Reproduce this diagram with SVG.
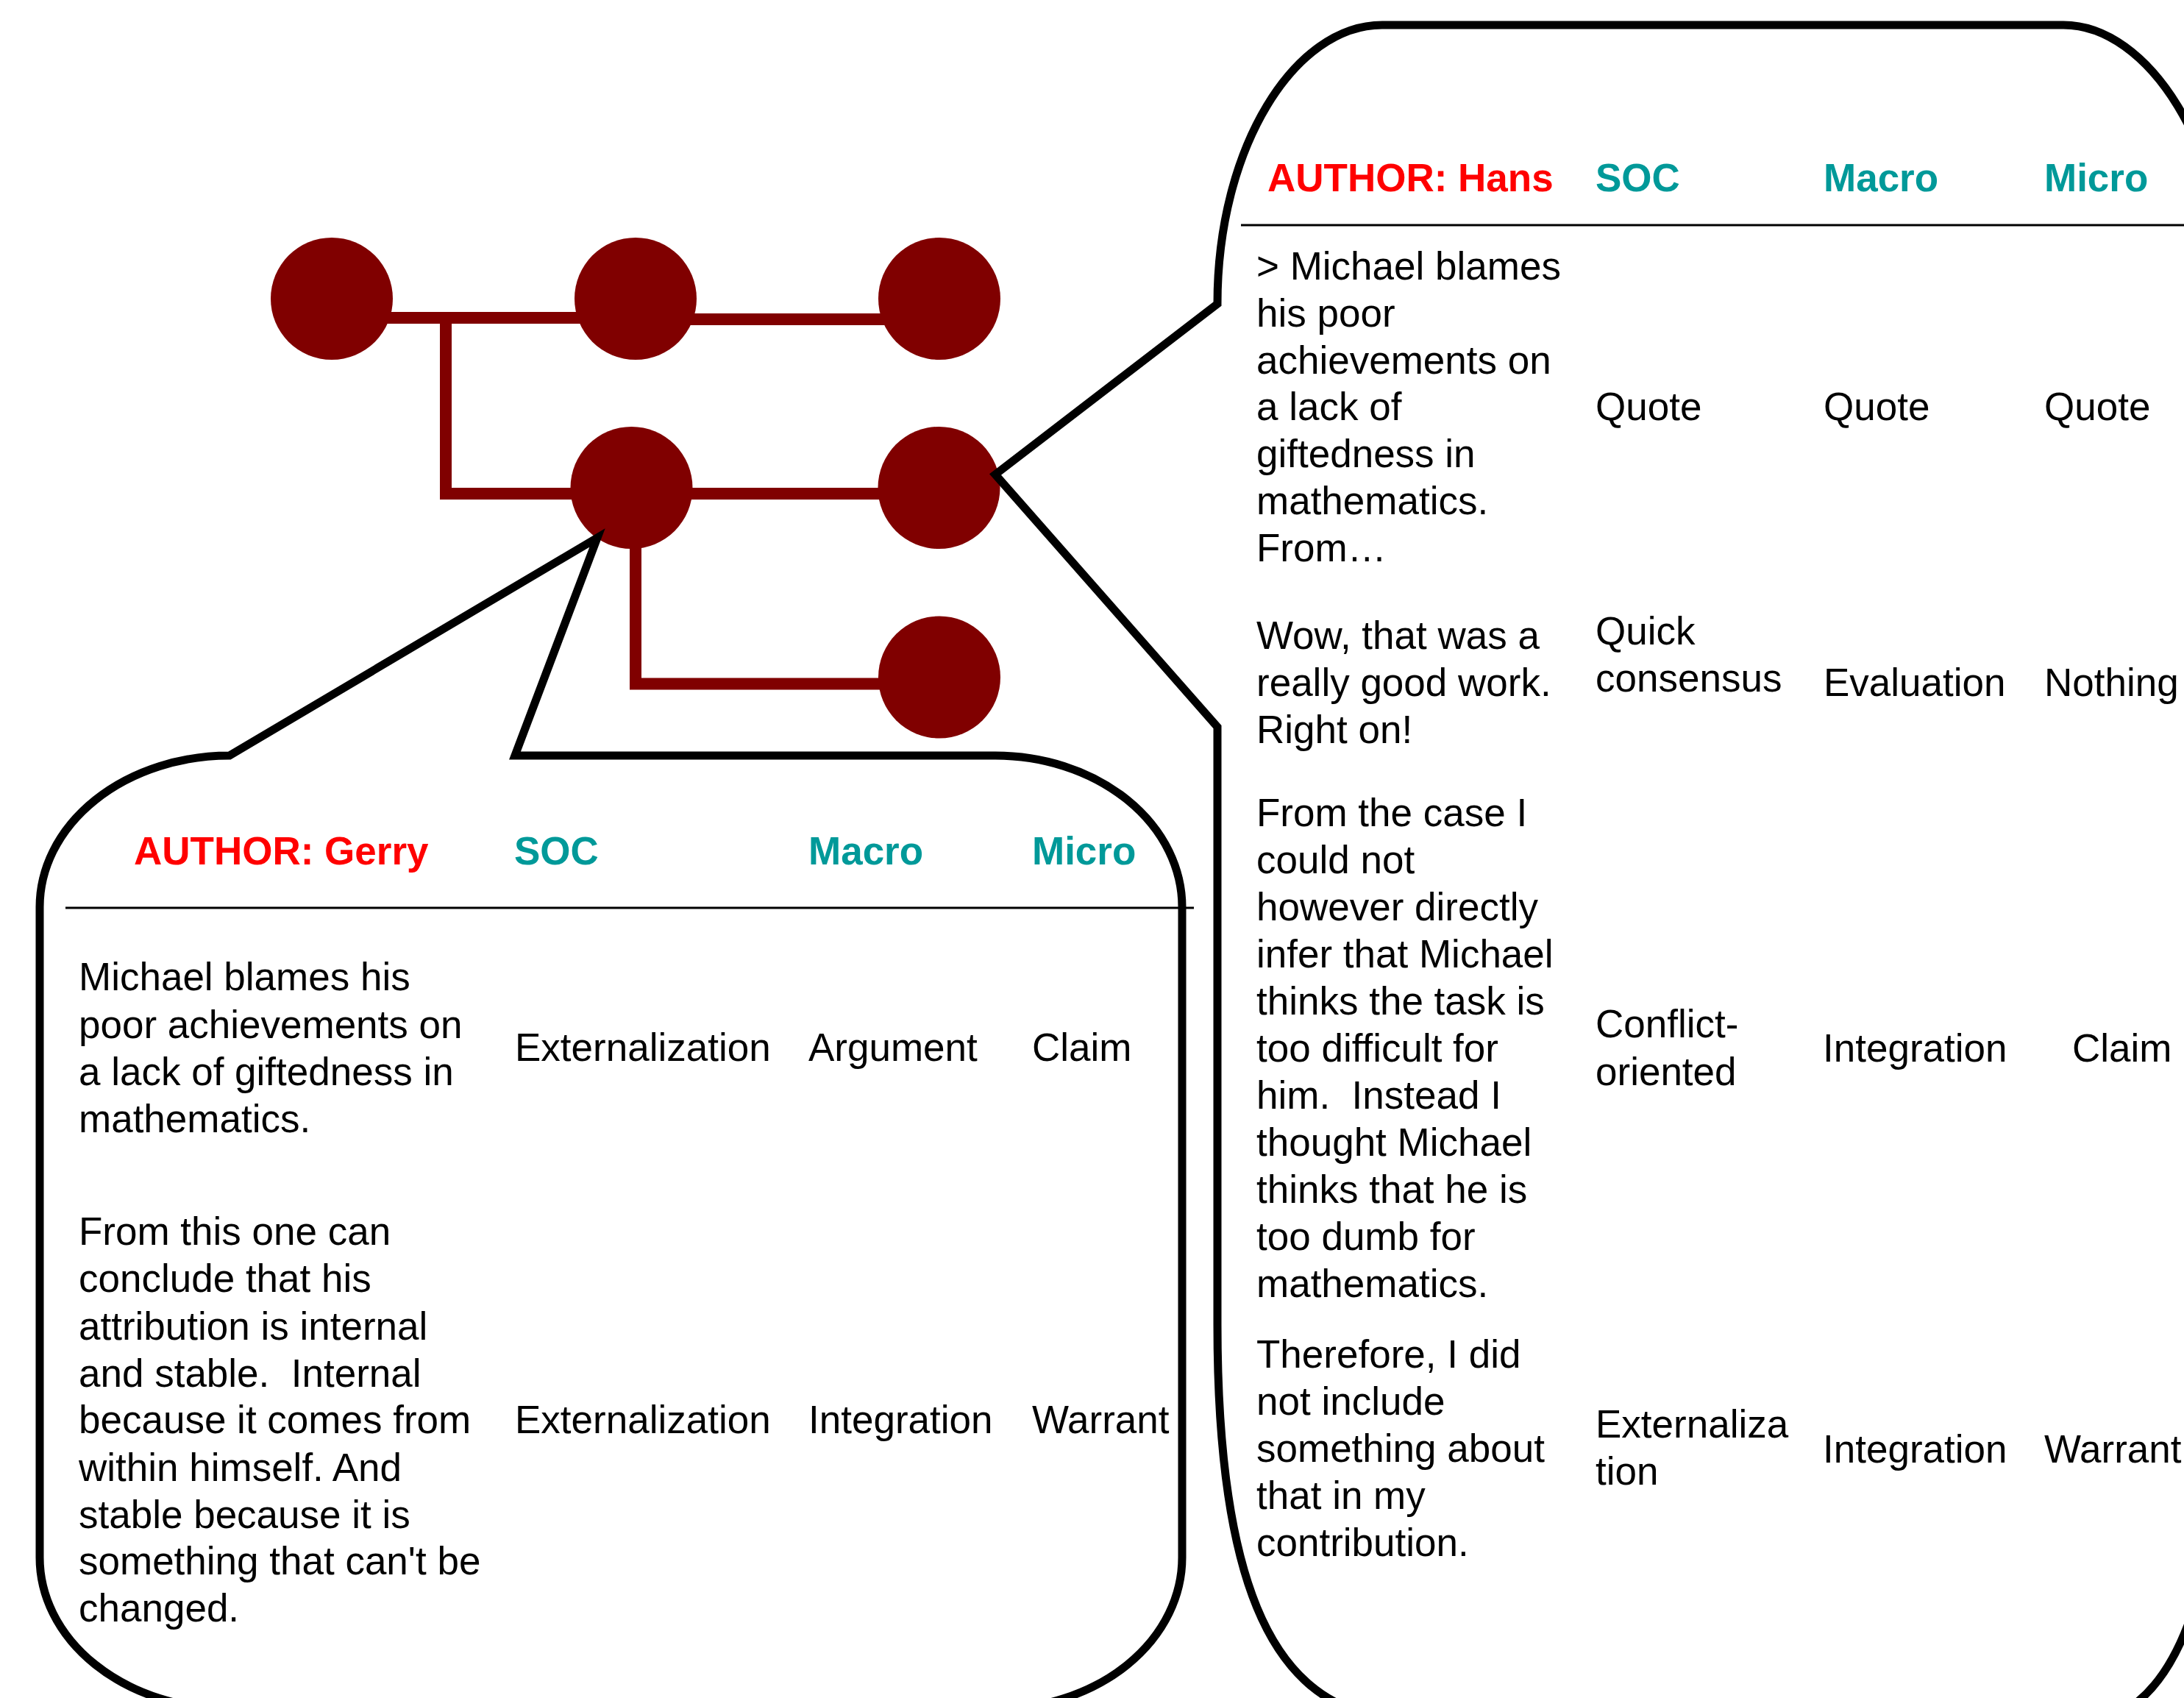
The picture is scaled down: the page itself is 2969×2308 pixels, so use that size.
<svg xmlns="http://www.w3.org/2000/svg" width="2969" height="2308" viewBox="0 0 2969 2308">
<style>
.bg{fill:#ffffff}
.node{fill:#800000}
.conn{fill:none;stroke:#800000;stroke-width:16;stroke-linejoin:miter;stroke-linecap:butt}
.callout{fill:none;stroke:#000000;stroke-width:11;stroke-linejoin:miter}
.sep{stroke:#000000;stroke-width:3}
text{font-family:"Liberation Sans",Arial,sans-serif;font-size:53px;fill:#000000;white-space:pre}
.author{font-weight:bold;fill:#ff0000}
.head{font-weight:bold;fill:#009999}
</style>
<rect class="bg" x="0" y="0" width="2969" height="2308"/>
<g id="connectors">
<polyline class="conn" points="450,432 864,432"/>
<polyline class="conn" points="864,434 1277,434"/>
<polyline class="conn" points="606,432 606,671 858,671"/>
<polyline class="conn" points="858,671 1277,671"/>
<polyline class="conn" points="864,663 864,929.5 1277,929.5"/>
</g>
<g id="node-1"><circle class="node" cx="451" cy="406" r="83"/></g>
<g id="node-2"><circle class="node" cx="864" cy="406" r="83"/></g>
<g id="node-3"><circle class="node" cx="1277" cy="406" r="83"/></g>
<g id="node-4"><circle class="node" cx="858.5" cy="663" r="83"/></g>
<g id="node-5"><circle class="node" cx="1276.5" cy="663" r="83"/></g>
<g id="node-6"><circle class="node" cx="1277" cy="920.5" r="83"/></g>
<g id="callout-gerry">
<path class="callout" d="M 312,1027 L 812,731 L 700,1027 L 1353,1027 A 254 206 0 0 1 1607,1233 L 1607,2117 A 254 206 0 0 1 1353,2323 L 312,2323 A 258 206 0 0 1 54,2117 L 54,1233 A 258 206 0 0 1 312,1027 Z"/>
<line class="sep" x1="89" y1="1234" x2="1623" y2="1234"/>
<text class="author" x="182" y="1175">AUTHOR: Gerry</text>
<text class="head" x="699" y="1175">SOC</text>
<text class="head" x="1099" y="1175">Macro</text>
<text class="head" x="1403" y="1175">Micro</text>
<text x="107"><tspan x="107" y="1346">Michael blames his</tspan><tspan x="107" y="1411">poor achievements on</tspan><tspan x="107" y="1475">a lack of giftedness in</tspan><tspan x="107" y="1539">mathematics.</tspan></text>
<text x="700" y="1442">Externalization</text>
<text x="1099" y="1442">Argument</text>
<text x="1403" y="1442">Claim</text>
<text x="107"><tspan x="107" y="1692">From this one can</tspan><tspan x="107" y="1756">conclude that his</tspan><tspan x="107" y="1821">attribution is internal</tspan><tspan x="107" y="1885">and stable.  Internal</tspan><tspan x="107" y="1948">because it comes from</tspan><tspan x="107" y="2013">within himself. And</tspan><tspan x="107" y="2077">stable because it is</tspan><tspan x="107" y="2140">something that can't be</tspan><tspan x="107" y="2204">changed.</tspan></text>
<text x="700" y="1948">Externalization</text>
<text x="1099" y="1948">Integration</text>
<text x="1403" y="1948">Warrant</text>
</g>
<g id="callout-hans">
<path class="callout" d="M 1879,34 L 2805,34 C 2920,34 3029,200 3029,413 L 3029,1750 C 3029,2100 2980,2280 2880,2330 L 1860,2330 C 1730,2300 1655,2150 1655,1800 L 1655,988 L 1353,645 L 1655,413 C 1655,200 1760,34 1879,34 Z"/>
<line class="sep" x1="1687" y1="306" x2="2969" y2="306"/>
<text class="author" x="1723" y="260">AUTHOR: Hans</text>
<text class="head" x="2169" y="260">SOC</text>
<text class="head" x="2479" y="260">Macro</text>
<text class="head" x="2779" y="260">Micro</text>
<text x="1708"><tspan x="1708" y="380">&gt; Michael blames</tspan><tspan x="1708" y="444">his poor</tspan><tspan x="1708" y="508">achievements on</tspan><tspan x="1708" y="571">a lack of</tspan><tspan x="1708" y="635">giftedness in</tspan><tspan x="1708" y="699">mathematics.</tspan><tspan x="1708" y="763">From…</tspan></text>
<text x="2169" y="571">Quote</text>
<text x="2479" y="571">Quote</text>
<text x="2779" y="571">Quote</text>
<text x="1708"><tspan x="1708" y="882">Wow, that was a</tspan><tspan x="1708" y="946">really good work.</tspan><tspan x="1708" y="1010">Right on!</tspan></text>
<text x="2169"><tspan x="2169" y="876">Quick</tspan><tspan x="2169" y="940">consensus</tspan></text>
<text x="2479" y="946">Evaluation</text>
<text x="2779" y="946">Nothing</text>
<text x="1708"><tspan x="1708" y="1123">From the case I</tspan><tspan x="1708" y="1187">could not</tspan><tspan x="1708" y="1251">however directly</tspan><tspan x="1708" y="1315">infer that Michael</tspan><tspan x="1708" y="1379">thinks the task is</tspan><tspan x="1708" y="1443">too difficult for</tspan><tspan x="1708" y="1507">him.  Instead I</tspan><tspan x="1708" y="1571">thought Michael</tspan><tspan x="1708" y="1635">thinks that he is</tspan><tspan x="1708" y="1699">too dumb for</tspan><tspan x="1708" y="1763">mathematics.</tspan></text>
<text x="2169"><tspan x="2169" y="1410">Conflict-</tspan><tspan x="2169" y="1475">oriented</tspan></text>
<text x="2478" y="1443">Integration</text>
<text x="2817" y="1443">Claim</text>
<text x="1708"><tspan x="1708" y="1859">Therefore, I did</tspan><tspan x="1708" y="1923">not include</tspan><tspan x="1708" y="1987">something about</tspan><tspan x="1708" y="2051">that in my</tspan><tspan x="1708" y="2115">contribution.</tspan></text>
<text x="2169"><tspan x="2169" y="1954">Externaliza</tspan><tspan x="2169" y="2018">tion</tspan></text>
<text x="2478" y="1988">Integration</text>
<text x="2779" y="1988">Warrant</text>
</g>
</svg>
